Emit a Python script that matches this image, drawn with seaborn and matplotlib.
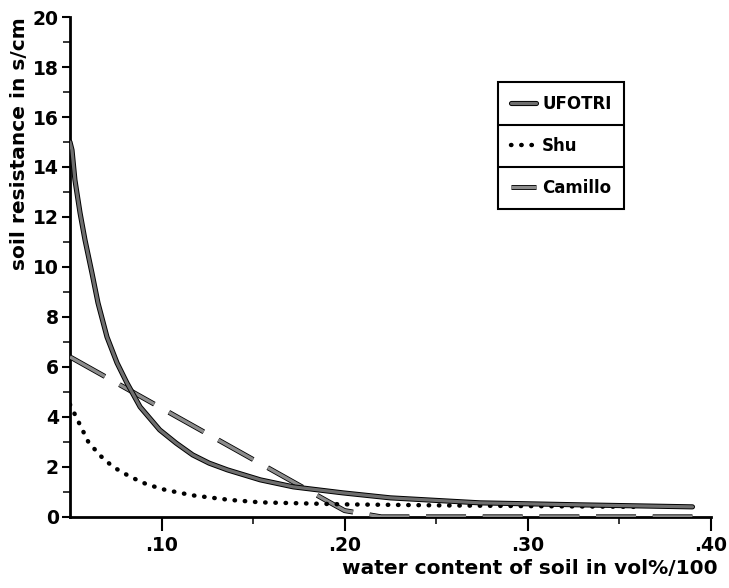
import matplotlib
matplotlib.use("Agg")
import matplotlib.pyplot as plt
import matplotlib.patheffects as pe
from matplotlib.lines import Line2D
import seaborn as sns

# values
ufotri_x = [0.05, 0.0511, 0.0527, 0.0555, 0.0582, 0.062, 0.0653, 0.0702, 0.0757, 0.0811, 0.0883,
            0.099, 0.108, 0.117, 0.126, 0.136, 0.154, 0.172, 0.199, 0.225, 0.274, 0.329, 0.39]
ufotri_y = [15.0, 14.68, 13.48, 12.16, 11.08, 9.76, 8.56, 7.2, 6.16, 5.36, 4.4,
            3.48, 2.95, 2.48, 2.15, 1.88, 1.48, 1.2, 0.96, 0.76, 0.56, 0.48, 0.40]

shu_x = [0.05, 0.055, 0.06, 0.0665, 0.0735, 0.083, 0.092, 0.102, 0.117, 0.137, 0.154, 0.20, 0.25, 0.30, 0.36]
shu_y = [4.5, 3.75, 3.0, 2.45, 2.0, 1.6, 1.3, 1.08, 0.86, 0.68, 0.58, 0.50, 0.46, 0.43, 0.40]

camillo_x = [0.05, 0.195, 0.20, 0.22, 0.39]
camillo_y = [6.4, 0.45, 0.25, 0.0, 0.0]

x_ticks = [0.10, 0.20, 0.30, 0.40]
x_ticklabels = [".10", ".20", ".30", ".40"]
x_minor = [0.15, 0.25, 0.35]
y_ticks = list(range(0, 21, 2))
y_minor = list(range(1, 20, 2))

sns.set_style("ticks")
plt.rcParams["font.family"] = ["DejaVu Sans"]
plt.rcParams["font.weight"] = "bold"
plt.rcParams["text.color"] = "black"
plt.rcParams["axes.labelcolor"] = "black"

fig = plt.figure(figsize=(7.29, 5.88), dpi=100)
ax = fig.add_axes([0.096, 0.121, 0.879, 0.850])

outline = lambda w: [pe.Stroke(linewidth=w, foreground="black"), pe.Normal()]

sns.lineplot(x=camillo_x, y=camillo_y, ax=ax, sort=False, estimator=None,
             color="#8c8c8c", linewidth=2.4, label="Camillo", zorder=3)
l_cam = ax.lines[-1]
l_cam.set_linestyle((0, (12, 5)))
l_cam.set_path_effects(outline(3.6))

sns.lineplot(x=shu_x, y=shu_y, ax=ax, sort=False, estimator=None,
             color="black", linewidth=3.2, label="Shu", zorder=4)
l_shu = ax.lines[-1]
l_shu.set_linestyle((0, (0.1, 2.2)))
l_shu.set_dash_capstyle("round")

sns.lineplot(x=ufotri_x, y=ufotri_y, ax=ax, sort=False, estimator=None,
             color="#6e6e6e", linewidth=2.3, label="UFOTRI", zorder=5)
l_ufo = ax.lines[-1]
l_ufo.set_solid_joinstyle("round")
l_ufo.set_path_effects(outline(3.7))

ax.set_xlim(0.05, 0.40)
ax.set_ylim(0, 20)
ax.set_xticks(x_ticks)
ax.set_xticklabels(x_ticklabels)
ax.set_xticks(x_minor, minor=True)
ax.set_yticks(y_ticks)
ax.set_yticks(y_minor, minor=True)

sns.despine(ax=ax)
for s in ["left", "bottom"]:
    ax.spines[s].set_linewidth(2)
    ax.spines[s].set_color("black")
ax.spines["bottom"].set_zorder(2)

ax.tick_params(axis="both", which="major", direction="out", width=1.5,
               colors="black", labelsize=13.5)
ax.tick_params(axis="y", which="major", length=6, pad=2)
ax.tick_params(axis="x", which="major", length=10, pad=4)
ax.tick_params(axis="both", which="minor", direction="out", length=5, width=1.3)

ax.set_ylabel("soil resistance in s/cm", fontsize=14.5, fontweight="bold", loc="top", labelpad=3)
ax.set_xlabel("water content of soil in vol%/100", fontsize=14.5, fontweight="bold", loc="right", labelpad=5)
ax.xaxis.set_label_coords(1.011, -0.085, transform=ax.transAxes)
ax.xaxis.label.set_horizontalalignment("right")

handles, labels = ax.get_legend_handles_labels()
order = [labels.index(n) for n in ["UFOTRI", "Shu", "Camillo"]]
leg = ax.legend([handles[i] for i in order], [labels[i] for i in order],
                loc="upper left", bbox_to_anchor=(0.668, 0.87), borderaxespad=0,
                fontsize=12, handlelength=1.5, handletextpad=0.4,
                labelspacing=1.45, borderpad=0.75, fancybox=False,
                edgecolor="black", framealpha=1)
leg.get_frame().set_linewidth(1.5)
for t in leg.get_texts():
    t.set_fontweight("bold")

# row dividers inside the legend box
fig.canvas.draw()
box = leg.get_window_extent()
tb = [t.get_window_extent() for t in leg.get_texts()]
W, H = fig.canvas.get_width_height()
for a, b in zip(tb[:-1], tb[1:]):
    ymid = (a.y0 + b.y1) / 2 / H
    fig.add_artist(Line2D([box.x0 / W, box.x1 / W], [ymid, ymid],
                          color="black", linewidth=1.5, zorder=10))

fig.savefig("out.png", dpi=100)
